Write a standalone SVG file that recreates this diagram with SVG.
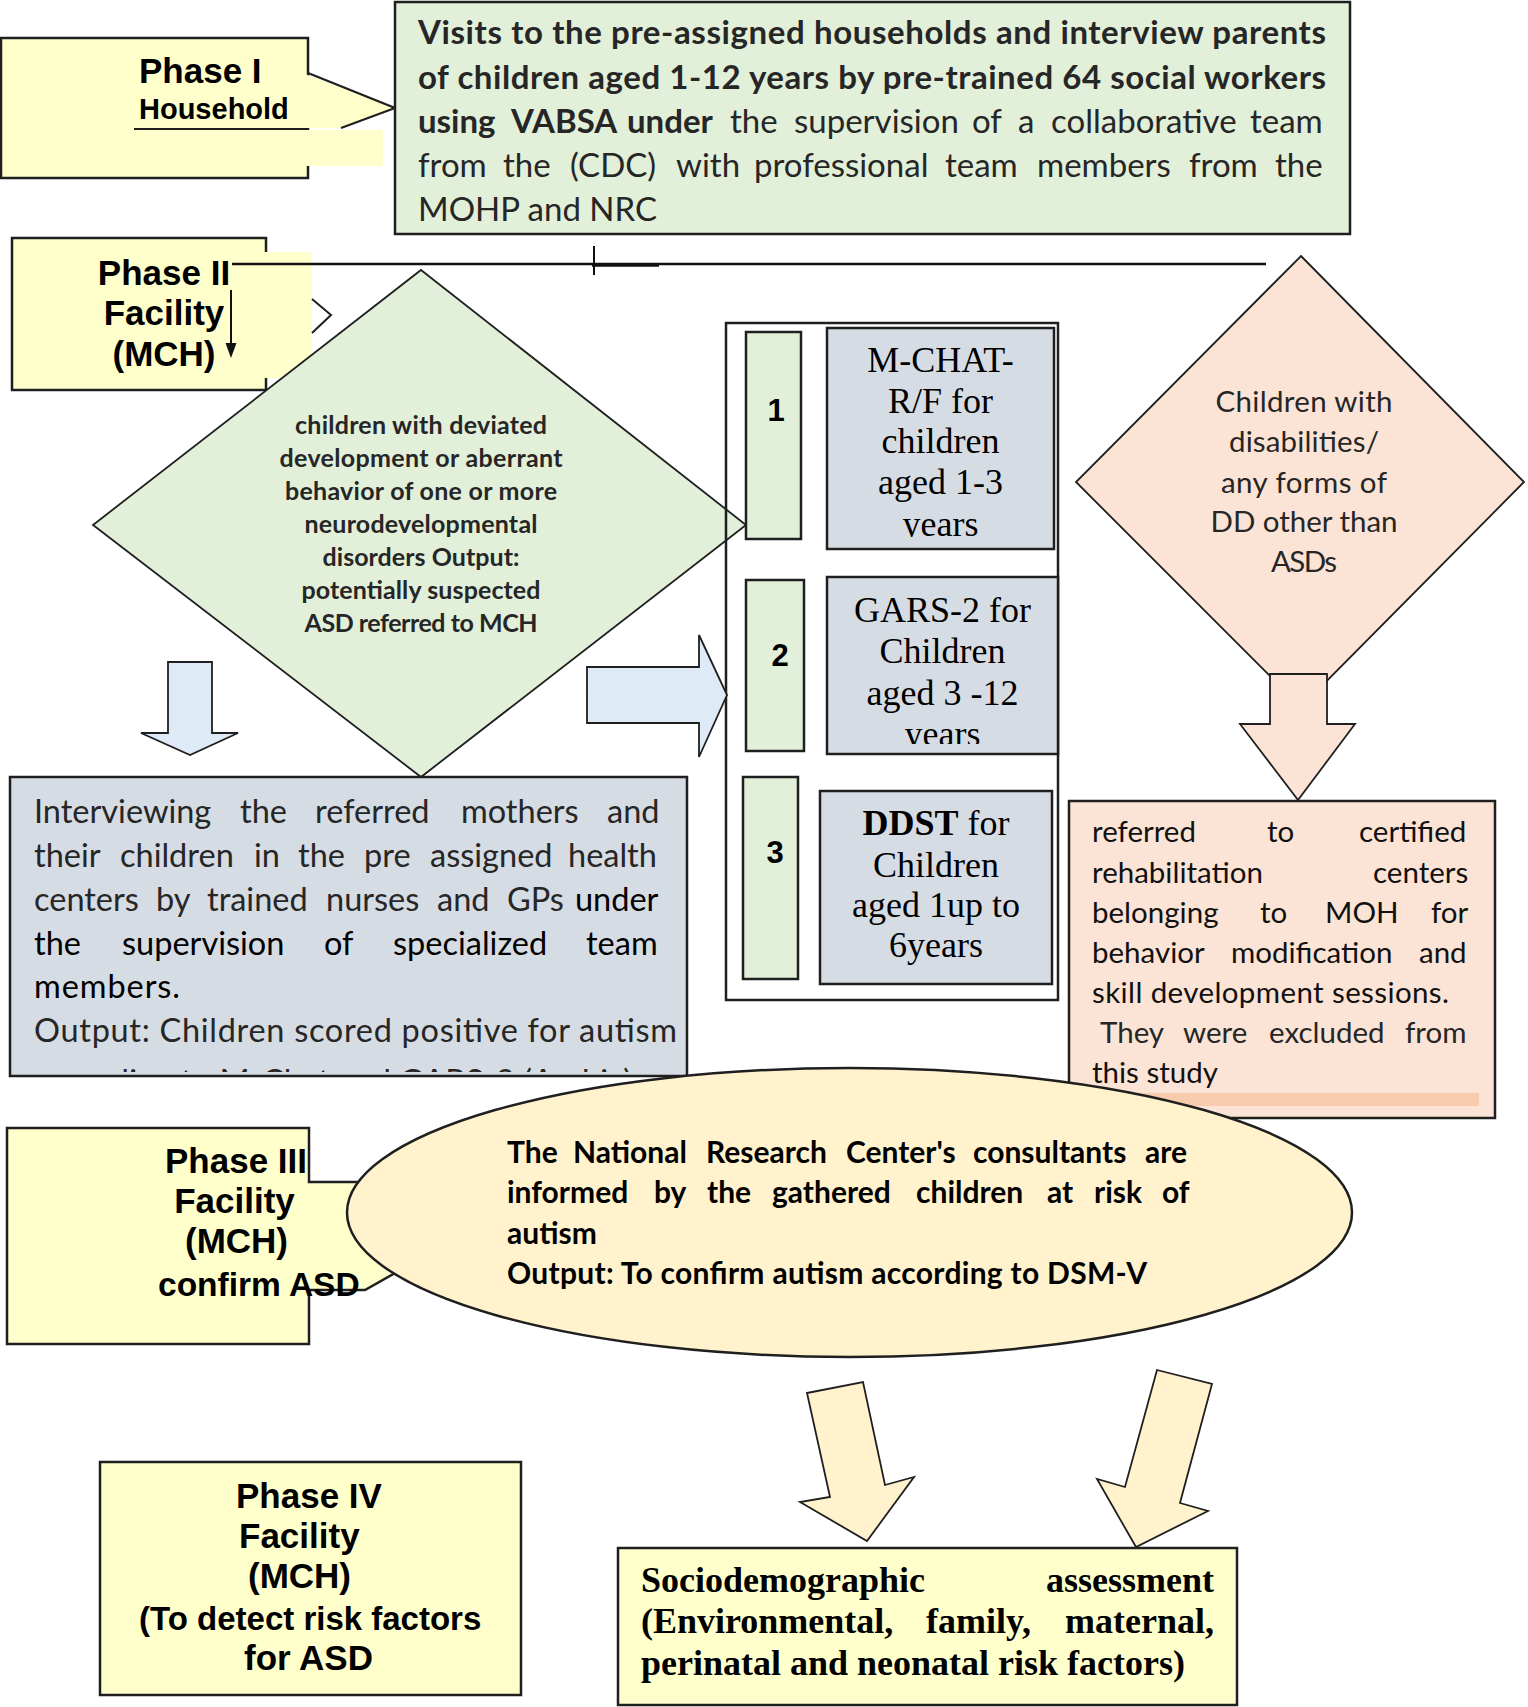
<svg xmlns="http://www.w3.org/2000/svg" width="1528" height="1707" viewBox="0 0 1528 1707">
<defs>
<style>
.box{stroke:#1f1f1f;stroke-width:2.5}
.thin{stroke:#1f1f1f;stroke-width:1.8}
.yel{fill:#FFFFCC}
.grn{fill:#E2EFD9}
.gry{fill:#D6DCE4}
.org{fill:#FBE4D5}
.bei{fill:#FFF2CC}
.blu{fill:#DEEAF6}
.ln{fill:none;stroke:#1f1f1f;stroke-width:2.2}
.ar{font-family:'Liberation Sans',Arial,sans-serif;font-weight:bold;fill:#000}
.ca{font-family:Lato,'Liberation Sans',sans-serif;fill:#262626}
.cb{font-family:Lato,'Liberation Sans',sans-serif;font-weight:bold;fill:#262626}
.tr{font-family:'Liberation Serif','Times New Roman',serif;fill:#000}
.mid{text-anchor:middle}
</style>
<clipPath id="clipA"><rect x="827" y="328" width="227" height="209"/></clipPath>
<clipPath id="clipB"><rect x="827" y="577" width="231" height="167"/></clipPath>
<clipPath id="clipI"><rect x="10" y="777" width="677" height="295"/></clipPath>
</defs>
<rect width="1528" height="1707" fill="#fff"/>

<g id="phase1">
<rect x="1" y="38" width="307" height="140" class="yel box"/>
<polygon points="305,74 395,108 341,128 305,128" class="yel"/>
<rect x="305" y="130" width="78" height="36" class="yel"/>
<polyline points="308,73 395,108 341,128" class="ln"/>
<line x1="134" y1="129" x2="308" y2="129" stroke="#1f1f1f" stroke-width="2"/>
<text class="ar" x="139" y="83" font-size="35">Phase I</text>
<text class="ar" x="139" y="119" font-size="29">Household</text>
</g>

<g id="visits">
<rect x="395" y="2" width="955" height="232" class="grn box"/>
<text class="cb" font-size="33" x="418" y="44" textLength="908" lengthAdjust="spacing">Visits to the pre-assigned households and interview parents</text>
<text class="cb" font-size="33" x="418" y="88.5" textLength="908" lengthAdjust="spacing">of children aged 1-12 years by pre-trained 64 social workers</text>
<text class="ca" font-size="33" y="133"><tspan x="418" font-weight="bold">using</tspan><tspan x="511" font-weight="bold">VABSA</tspan><tspan x="627" font-weight="bold">under</tspan><tspan x="730">the</tspan><tspan x="794">supervision</tspan><tspan x="972">of</tspan><tspan x="1018">a</tspan><tspan x="1051">collaborative</tspan><tspan x="1250">team</tspan></text>
<text class="ca" font-size="33" y="177"><tspan x="418">from</tspan><tspan x="503">the</tspan><tspan x="570">(CDC)</tspan><tspan x="676">with</tspan><tspan x="754">professional</tspan><tspan x="945">team</tspan><tspan x="1037">members</tspan><tspan x="1189">from</tspan><tspan x="1275">the</tspan></text>
<text class="ca" font-size="33" x="418" y="221">MOHP and NRC</text>
</g>

<g id="phase2">
<rect x="12" y="238" width="254" height="152" class="yel box"/>
<rect x="264" y="252" width="48" height="126" class="yel"/>
<polyline points="312,299 331,315 312,333" fill="none" stroke="#1f1f1f" stroke-width="2"/>
<text class="ar mid" x="164" y="285" font-size="35">Phase II</text>
<text class="ar mid" x="164" y="325" font-size="35">Facility</text>
<text class="ar mid" x="164" y="366" font-size="35">(MCH)</text>
</g>

<g id="screen-diamond">
<polygon points="421,270 746,525 421,777 93,525" class="grn thin"/>
<text class="cb mid" font-size="25" x="421" y="434" textLength="252" lengthAdjust="spacing">children with deviated</text>
<text class="cb mid" font-size="25" x="421" y="467" textLength="283" lengthAdjust="spacing">development or aberrant</text>
<text class="cb mid" font-size="25" x="421" y="500" textLength="272" lengthAdjust="spacing">behavior of one or more</text>
<text class="cb mid" font-size="25" x="421" y="533" textLength="233" lengthAdjust="spacing">neurodevelopmental</text>
<text class="cb mid" font-size="25" x="421" y="566" textLength="197" lengthAdjust="spacing">disorders Output:</text>
<text class="cb mid" font-size="25" x="421" y="599" textLength="239" lengthAdjust="spacing">potentially suspected</text>
<text class="cb mid" font-size="25" x="421" y="632" textLength="233" lengthAdjust="spacing">ASD referred to MCH</text>
</g>

<g id="tools">
<rect x="726" y="323" width="332" height="677" fill="none" class="box" stroke-width="2"/>
<rect x="746" y="332" width="55" height="207" class="grn box"/>
<rect x="746" y="580" width="58" height="171" class="grn box"/>
<rect x="743" y="777" width="55" height="202" class="grn box"/>
<text class="ar mid" x="776" y="421" font-size="31">1</text>
<text class="ar mid" x="780" y="666" font-size="31">2</text>
<text class="ar mid" x="775" y="863" font-size="31">3</text>
<rect x="827" y="328" width="227" height="221" class="gry box"/>
<rect x="827" y="577" width="231" height="177" class="gry box"/>
<rect x="820" y="791" width="232" height="193" class="gry box"/>
<text class="tr mid" font-size="36" x="940.5" y="372">M-CHAT-</text>
<text class="tr mid" font-size="36" x="940.5" y="413">R/F for</text>
<text class="tr mid" font-size="36" x="940.5" y="453">children</text>
<text class="tr mid" font-size="36" x="940.5" y="494">aged 1-3</text>
<text class="tr mid" font-size="36" x="940.5" y="536" clip-path="url(#clipA)">years</text>
<text class="tr mid" font-size="36" x="942.5" y="622">GARS-2 for</text>
<text class="tr mid" font-size="36" x="942.5" y="663">Children</text>
<text class="tr mid" font-size="36" x="942.5" y="705">aged 3 -12</text>
<text class="tr mid" font-size="36" x="942.5" y="746" clip-path="url(#clipB)">years</text>
<text class="tr mid" font-size="36" x="936" y="835"><tspan font-weight="bold">DDST</tspan> for</text>
<text class="tr mid" font-size="36" x="936" y="877">Children</text>
<text class="tr mid" font-size="36" x="936" y="917">aged 1up to</text>
<text class="tr mid" font-size="36" x="936" y="957">6years</text>
</g>

<g id="dd-diamond">
<polygon points="1301,256 1524,482 1301,707 1076,482" class="org thin"/>
<text class="ca mid" font-size="29.5" x="1304" y="412" textLength="177" lengthAdjust="spacing">Children with</text>
<text class="ca mid" font-size="29.5" x="1304" y="452" textLength="150" lengthAdjust="spacing">disabilities/</text>
<text class="ca mid" font-size="29.5" x="1304" y="493" textLength="166" lengthAdjust="spacing">any forms of</text>
<text class="ca mid" font-size="29.5" x="1304" y="532" textLength="187" lengthAdjust="spacing">DD other than</text>
<text class="ca mid" font-size="29.5" x="1304" y="572" textLength="66" lengthAdjust="spacing">ASDs</text>
</g>

<g id="connectors">
<line x1="232" y1="264" x2="1266" y2="264" stroke="#111" stroke-width="2.5"/>
<line x1="594" y1="246" x2="594" y2="275" stroke="#111" stroke-width="2"/>
<line x1="592" y1="265" x2="659" y2="265" stroke="#111" stroke-width="3.5"/>
<line x1="231" y1="290" x2="231" y2="345" stroke="#111" stroke-width="2"/>
<polygon points="225.5,343 236.5,343 231,358" fill="#111"/>
<polygon points="168,662 212,662 212,733 238,733 190,755 141,733 168,733" class="blu thin"/>
<polygon points="587,667 699,667 699,635 727,695 699,757 699,723 587,723" class="blu thin"/>
<polygon points="1270,674 1327,674 1327,724 1355,724 1298,800 1240,724 1270,724" class="org thin"/>
<polygon points="807,1393 863,1382 885,1485 914,1477 867,1541 800,1502 830,1497" class="bei thin"/>
<polygon points="1157,1370 1212,1384 1180,1503 1208,1511 1136,1547 1097,1479 1125,1487" class="bei thin"/>
</g>

<g id="interview">
<rect x="10" y="777" width="677" height="299" class="gry box"/>
<text class="ca" font-size="32.5" y="823" fill="#333"><tspan x="34">Interviewing</tspan><tspan x="240">the</tspan><tspan x="315">referred</tspan><tspan x="461">mothers</tspan><tspan x="607">and</tspan></text>
<text class="ca" font-size="32.5" y="867" fill="#333"><tspan x="34">their</tspan><tspan x="120">children</tspan><tspan x="254">in</tspan><tspan x="298">the</tspan><tspan x="364">pre</tspan><tspan x="430">assigned</tspan><tspan x="568">health</tspan></text>
<text class="ca" font-size="32.5" y="910.5"><tspan x="34">centers</tspan><tspan x="156">by</tspan><tspan x="207">trained</tspan><tspan x="326">nurses</tspan><tspan x="437">and</tspan><tspan x="507">GPs</tspan><tspan x="575" fill="#000">under</tspan></text>
<text class="ca" font-size="32.5" y="954.5" style="fill:#000"><tspan x="34">the</tspan><tspan x="122">supervision</tspan><tspan x="324">of</tspan><tspan x="393">specialized</tspan><tspan x="586">team</tspan></text>
<text class="ca" font-size="32.5" x="34" y="998" style="fill:#000" textLength="146" lengthAdjust="spacing">members.</text>
<text class="ca" font-size="32.5" x="34" y="1042" textLength="643" lengthAdjust="spacing">Output: Children scored positive for autism</text>
<text class="ca" font-size="32.5" x="34" y="1093" textLength="598" lengthAdjust="spacing" clip-path="url(#clipI)">according to M-Chat and GARS-2 (Arabic)</text>
</g>

<g id="rehab">
<rect x="1069" y="801" width="426" height="317" class="org box"/>
<rect x="1091" y="1093" width="388" height="13" fill="#F8CBAD"/>
<text class="ca" font-size="29.5" y="842" style="fill:#111"><tspan x="1092">referred</tspan><tspan x="1267">to</tspan><tspan x="1359">certified</tspan></text>
<text class="ca" font-size="29.5" y="882.5" style="fill:#111"><tspan x="1092">rehabilitation</tspan><tspan x="1373">centers</tspan></text>
<text class="ca" font-size="29.5" y="923" style="fill:#111"><tspan x="1092">belonging</tspan><tspan x="1260">to</tspan><tspan x="1325">MOH</tspan><tspan x="1431">for</tspan></text>
<text class="ca" font-size="29.5" y="963" style="fill:#111"><tspan x="1092">behavior</tspan><tspan x="1231">modification</tspan><tspan x="1419">and</tspan></text>
<text class="ca" font-size="29.5" x="1092" y="1003" style="fill:#111" textLength="357" lengthAdjust="spacing">skill development sessions.</text>
<text class="ca" font-size="29.5" y="1043" fill="#333"><tspan x="1100">They</tspan><tspan x="1183">were</tspan><tspan x="1269">excluded</tspan><tspan x="1405">from</tspan></text>
<text class="ca" font-size="29.5" x="1092" y="1083" style="fill:#111">this study</text>
</g>

<g id="phase3">
<polygon points="7,1128 309,1128 309,1182 370,1182 430,1230 395,1273 365,1290 309,1290 309,1344 7,1344" class="yel box"/>
<text class="ar mid" x="236" y="1173" font-size="35">Phase III</text>
<text class="ar mid" x="234.5" y="1213" font-size="35">Facility</text>
<text class="ar mid" x="236.5" y="1253" font-size="35">(MCH)</text>
<text class="ar" x="158" y="1296" font-size="33.5">confirm ASD</text>
</g>

<g id="nrc">
<ellipse cx="849.5" cy="1212.5" rx="502.5" ry="144.5" class="bei box"/>
<text class="cb" font-size="30" y="1163" style="fill:#000"><tspan x="507">The</tspan><tspan x="573">National</tspan><tspan x="706">Research</tspan><tspan x="846">Center's</tspan><tspan x="973">consultants</tspan><tspan x="1145">are</tspan></text>
<text class="cb" font-size="30" y="1203" style="fill:#000"><tspan x="507">informed</tspan><tspan x="654">by</tspan><tspan x="707">the</tspan><tspan x="772">gathered</tspan><tspan x="916">children</tspan><tspan x="1047">at</tspan><tspan x="1094">risk</tspan><tspan x="1162">of</tspan></text>
<text class="cb" font-size="30" x="507" y="1244" style="fill:#000">autism</text>
<text class="cb" font-size="30" x="507" y="1284" style="fill:#000" textLength="640" lengthAdjust="spacing">Output: To confirm autism according to DSM-V</text>
</g>

<g id="phase4">
<rect x="100" y="1462" width="421" height="233" class="yel box"/>
<text class="ar" x="236" y="1508" font-size="35">Phase IV</text>
<text class="ar" x="239" y="1548" font-size="35">Facility</text>
<text class="ar" x="248" y="1588" font-size="35">(MCH)</text>
<text class="ar" x="139" y="1630" font-size="33">(To detect risk factors</text>
<text class="ar" x="244" y="1670" font-size="35">for ASD</text>
</g>

<g id="socio">
<rect x="618" y="1548" width="619" height="157" class="yel box"/>
<text class="tr" font-size="36" font-weight="bold" y="1592"><tspan x="641">Sociodemographic</tspan><tspan x="1046">assessment</tspan></text>
<text class="tr" font-size="36" font-weight="bold" y="1633"><tspan x="641">(Environmental,</tspan><tspan x="926">family,</tspan><tspan x="1065">maternal,</tspan></text>
<text class="tr" font-size="36" font-weight="bold" x="641" y="1675">perinatal and neonatal risk factors)</text>
</g>
</svg>
